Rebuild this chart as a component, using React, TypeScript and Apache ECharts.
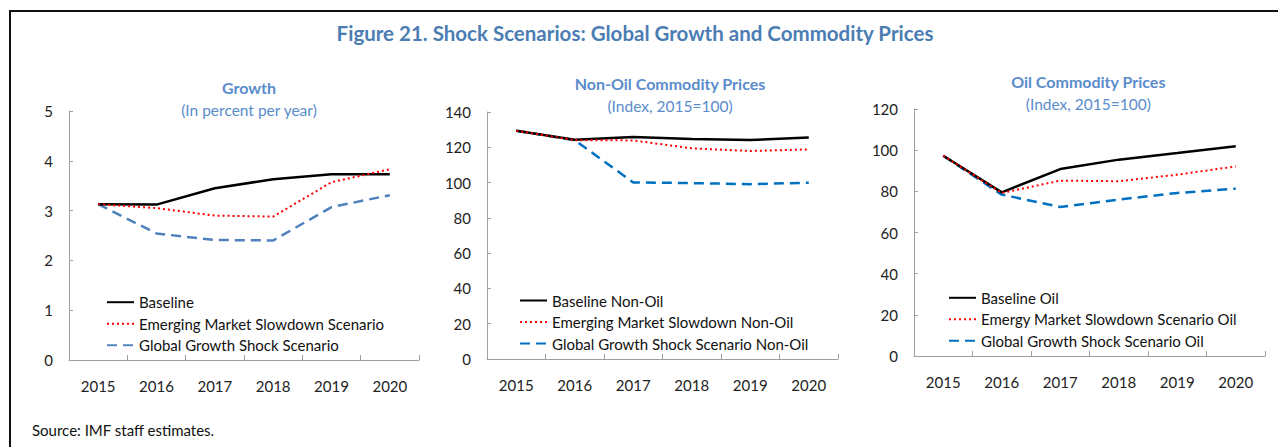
import React, { useEffect, useRef } from "react";
import * as echarts from "echarts";

const years = ["2015", "2016", "2017", "2018", "2019", "2020"];

const growthBaseline = [3.13, 3.12, 3.45, 3.63, 3.73, 3.73];
const growthEM = [3.13, 3.05, 2.9, 2.88, 3.57, 3.83];
const growthGGS = [3.13, 2.54, 2.41, 2.4, 3.07, 3.31];

const nonOilBaseline = [129.4, 124.3, 125.8, 124.7, 124.1, 125.6];
const nonOilEM = [129.4, 124.0, 123.9, 119.4, 117.9, 118.8];
const nonOilGGS = [129.4, 124.0, 100.1, 99.7, 99.1, 99.9];

const oilBaseline = [97.3, 79.5, 90.8, 95.4, 98.6, 101.9];
const oilEM = [97.3, 79.2, 85.2, 84.9, 88.1, 92.1];
const oilGGS = [97.3, 78.4, 72.4, 76.0, 79.2, 81.3];

const FONT = "Lato";
const TITLE_BLUE = "#4b7db3";
const SUB_BLUE = "#5a8ccb";

export default function App() {
  const ref = useRef<HTMLDivElement>(null);
  useEffect(() => {
    if (!ref.current) return;
    const chart = echarts.init(ref.current, null, { renderer: "svg" });

    const grids = [
      { left: 69, top: 111, width: 350, height: 249 },
      { left: 487, top: 112, width: 351, height: 247 },
      { left: 914, top: 109, width: 351, height: 247 },
    ];
    const yRanges = [
      { max: 5, interval: 1 },
      { max: 140, interval: 20 },
      { max: 120, interval: 20 },
    ];
    const axisColor = "#a0a0a0";
    const xAxes = grids.map((_, i) => ({
      type: "category",
      gridIndex: i,
      data: years,
      boundaryGap: true,
      axisLine: { lineStyle: { color: axisColor, width: 1 } },
      axisTick: { show: true, inside: true, length: 5, interval: 0, lineStyle: { color: axisColor } },
      axisLabel: { color: "#222", fontFamily: FONT, fontSize: 15, margin: 18 },
    }));
    const yAxes = grids.map((_, i) => ({
      type: "value",
      gridIndex: i,
      min: 0,
      max: yRanges[i].max,
      interval: yRanges[i].interval,
      axisLine: { show: true, lineStyle: { color: axisColor, width: 1 } },
      axisTick: { show: true, inside: true, length: 4, lineStyle: { color: axisColor } },
      splitLine: { show: false },
      axisLabel: { color: "#222", fontFamily: FONT, fontSize: 15, margin: 16 },
    }));

    const mk = (name: string, data: number[], idx: number, kind: "solid" | "dot" | "dash", color: string) => ({
      name,
      type: "line",
      xAxisIndex: idx,
      yAxisIndex: idx,
      data,
      symbol: "none",
      smooth: false,
      lineStyle: {
        color,
        width: kind === "dot" ? 2 : 2.5,
        type: kind === "solid" ? "solid" : kind === "dot" ? [2, 3] : [10, 6],
      },
      itemStyle: { color },
      z: kind === "solid" ? 3 : kind === "dot" ? 4 : 2,
    });

    const series = [
      mk("Baseline", growthBaseline, 0, "solid", "#000"),
      mk("Emerging Market Slowdown Scenario", growthEM, 0, "dot", "#ff0000"),
      mk("Global Growth Shock Scenario", growthGGS, 0, "dash", "#4f81bd"),
      mk("Baseline Non-Oil", nonOilBaseline, 1, "solid", "#000"),
      mk("Emerging Market Slowdown Non-Oil", nonOilEM, 1, "dot", "#ff0000"),
      mk("Global Growth Shock Scenario Non-Oil", nonOilGGS, 1, "dash", "#0070c0"),
      mk("Baseline Oil", oilBaseline, 2, "solid", "#000"),
      mk("Emergy Market Slowdown Scenario Oil", oilEM, 2, "dot", "#ff0000"),
      mk("Global Growth Shock Scenario Oil", oilGGS, 2, "dash", "#0070c0"),
    ];

    const legendPos = [
      { left: 106, top: 294.7 },
      { left: 519, top: 293 },
      { left: 948, top: 290.3 },
    ];
    const legends = legendPos.map((p, i) => ({
      orient: "vertical",
      left: p.left,
      top: p.top,
      padding: 0,
      itemWidth: 27,
      itemHeight: 14,
      itemGap: 6.5,
      itemStyle: { opacity: 0 },
      data: series.slice(i * 3, i * 3 + 3).map((s) => s.name),
      textStyle: { color: "#111", fontFamily: FONT, fontSize: 15 },
      selectedMode: false,
    }));

    const titleText = (x: number, y: number, text: string, opts: any) => ({
      type: "text",
      x,
      y,
      style: {
        text,
        fill: opts.color,
        font: `${opts.weight} ${opts.size}px ${FONT}`,
        textAlign: "center",
        textVerticalAlign: "middle",
      },
    });

    chart.setOption({
      animation: false,
      backgroundColor: "#fff",
      grid: grids,
      xAxis: xAxes,
      yAxis: yAxes,
      legend: legends,
      series,
      graphic: [
        {
          type: "polyline",
          shape: { points: [[10, 447], [10, 11], [1278, 11]] },
          style: { stroke: "#111", lineWidth: 2, fill: "none" },
        },
        titleText(635, 33, "Figure 21. Shock Scenarios: Global Growth and Commodity Prices", { color: TITLE_BLUE, weight: "bold", size: 20.5 }),
        titleText(249, 87, "Growth", { color: SUB_BLUE, weight: "bold", size: 16 }),
        titleText(249, 110, "(In percent per year)", { color: SUB_BLUE, weight: "normal", size: 15.5 }),
        titleText(670, 83.3, "Non-Oil Commodity Prices", { color: SUB_BLUE, weight: "bold", size: 16 }),
        titleText(670, 105.7, "(Index, 2015=100)", { color: SUB_BLUE, weight: "normal", size: 15.5 }),
        titleText(1088.3, 81.7, "Oil Commodity Prices", { color: SUB_BLUE, weight: "bold", size: 16 }),
        titleText(1088.3, 104.3, "(Index, 2015=100)", { color: SUB_BLUE, weight: "normal", size: 15.5 }),
        {
          type: "text",
          x: 32,
          y: 430,
          style: {
            text: "Source: IMF staff estimates.",
            fill: "#111",
            font: `normal 15px ${FONT}`,
            textAlign: "left",
            textVerticalAlign: "middle",
          },
        },
      ],
    });
    return () => chart.dispose();
  }, []);
  return <div ref={ref} style={{ position: "absolute", left: 0, top: 0, width: 1278, height: 447 }} />;
}
